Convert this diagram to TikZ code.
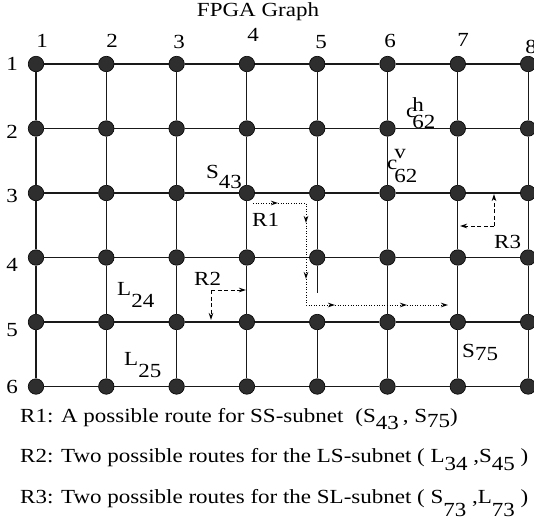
\documentclass[tikz,border=0pt]{standalone}
\usepackage{fontspec}
\setmainfont{Liberation Serif}[FakeStretch=1.15]
\usetikzlibrary{arrows.meta}
\begin{document}
\begin{tikzpicture}[x=1pt,y=-1pt,
  vtx/.style={circle,fill=black!82,draw=black,line width=0.6pt,minimum size=15.5pt,inner sep=0pt},
  edge/.style={line width=1.1pt,black!90},
  lbl/.style={font=\fontsize{20}{24}\selectfont,inner sep=0pt},
  txt/.style={font=\fontsize{20}{24}\selectfont,inner sep=0pt,anchor=base west},
  routedot/.style={dash pattern=on 1pt off 1.6pt,line width=1pt},
  routedash/.style={dash pattern=on 4pt off 2.5pt,line width=1pt},
  tip/.style={-{Stealth[length=7pt,width=4.5pt]}}
]
\useasboundingbox (0,0) rectangle (534,528);

% vertices
\foreach \i in {1,...,8} {
  \foreach \j in {1,...,6} {
    \pgfmathsetmacro\xx{36+70.3*(\i-1)}
    \pgfmathsetmacro\yy{64+64.5*(\j-1)}
    \node[vtx] (n-\i-\j) at (\xx,\yy) {};
  }
}

% horizontal edges
\foreach \j in {1,...,6} {
  \foreach \i [evaluate=\i as \k using int(\i+1)] in {1,...,7} {
    \draw[edge] (n-\i-\j) -- (n-\k-\j);
  }
}
% vertical edges
\foreach \i in {1,2,3,4,6,7,8} {
  \foreach \j [evaluate=\j as \k using int(\j+1)] in {1,...,5} {
    \draw[edge] (n-\i-\j) -- (n-\i-\k);
  }
}
\foreach \j [evaluate=\j as \k using int(\j+1)] in {1,2,3,5} {
  \draw[edge] (n-5-\j) -- (n-5-\k);
}
\path (n-5-4.center) ++(0,35) coordinate (cut);
\draw[edge] (n-5-4) -- (cut);

% title
\node[txt,anchor=base] (title) at (258,16) {FPGA Graph};

% column labels
\foreach \i/\x/\y in {1/42/41,2/112/41,3/179/42,4/253/35,5/321/42,6/390/41,7/463/40,8/531/47} {
  \node[lbl] (col-\i) at (\x,\y) {\i};
}
% row labels
\foreach \j/\y in {1/64,2/132,3/196,4/265,5/330,6/387} {
  \node[lbl] (row-\j) at (12,\y) {\j};
}

% labels in the graph
\node[txt] (s43) at (206,178) {S\raisebox{-10pt}{43}};
\node[txt] (l24) at (117,295) {L\raisebox{-12pt}{24}};
\node[txt] (l25) at (124,365) {L\raisebox{-12pt}{25}};
\node[txt] (s75) at (462,357) {S\raisebox{-3pt}{75}};
\node[txt] (ch62) at (406,117) {c\kern-4pt\rlap{\raisebox{6pt}{h}}\raisebox{-11pt}{62}};
\node[txt] (cv62) at (387,169) {c\kern-3pt\rlap{\raisebox{11pt}{v}}\raisebox{-13pt}{62}};
\node[txt] (r1lbl) at (252,226) {R1};
\node[txt] (r2lbl) at (194,285) {R2};
\node[txt] (r3lbl) at (494,248) {R3};

% route R1 (dotted)
\coordinate (r1a) at (253,203);
\coordinate (r1b) at (278,203);
\coordinate (r1c) at (306,203);
\coordinate (r1d) at (306,223);
\coordinate (r1e) at (306,279);
\coordinate (r1f) at (306,305);
\coordinate (r1g) at (335,305);
\coordinate (r1h) at (407,305);
\coordinate (r1i) at (448,305);
\draw[routedot,tip] (r1a) -- (r1b);
\draw[routedot,tip] (r1b) -- (r1c) -- (r1d);
\draw[routedot,tip] (r1d) -- (r1e);
\draw[routedot,tip] (r1e) -- (r1f) -- (r1g);
\draw[routedot,tip] (r1g) -- (r1h);
\draw[routedot,tip] (r1h) -- (r1i);

% route R2 (dashed)
\coordinate (r2c) at (211,290);
\coordinate (r2r) at (246,290);
\coordinate (r2d) at (211,320);
\draw[routedash,tip] (r2c) -- (r2r);
\draw[routedash,tip] (r2c) -- (r2d);

% route R3 (dashed)
\coordinate (r3c) at (494,226);
\coordinate (r3u) at (494,194);
\coordinate (r3l) at (460,226);
\draw[routedash,tip] (r3c) -- (r3u);
\draw[routedash,tip] (r3c) -- (r3l);

% legend
\node[txt] (leg1) at (20,422) {R1: A possible route for SS-subnet\hspace{12pt}(S\raisebox{-7pt}{43}\hspace{4pt}, S\raisebox{-5pt}{75})};
\node[txt] (leg2) at (20,462) {R2: Two possible routes for the LS-subnet ( L\raisebox{-8pt}{34} ,S\raisebox{-8pt}{45} )};
\node[txt] (leg3) at (20,503) {R3: Two possible routes for the SL-subnet ( S\raisebox{-13pt}{73} ,L\raisebox{-13pt}{73} )};
\end{tikzpicture}
\end{document}
